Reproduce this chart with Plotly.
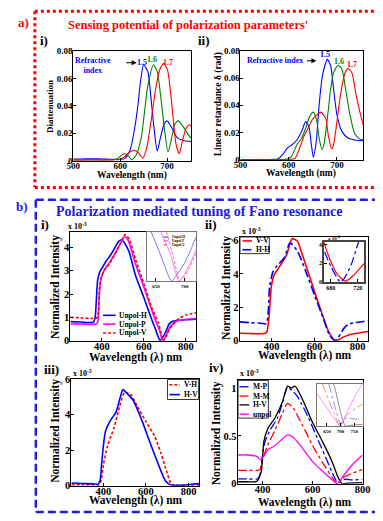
import plotly.graph_objects as go

W, H = 383, 521
SERIF = "Liberation Serif"

# ------------------------------------------------------------------ data
# a-i) Diattenuation vs wavelength for refractive index 1.5 / 1.6 / 1.7
ai_wl_15 = [500, 520, 540, 560, 580, 600, 610, 621, 631, 638, 643, 650, 659, 665, 672, 679, 686, 694, 700, 710, 721, 734, 752]
ai_d_15 = [0.0012, 0.0012, 0.0014, 0.0012, 0.001, 0.0008, 0.0015, 0.0076, 0.024, 0.041, 0.057, 0.070, 0.065, 0.048, 0.024, 0.0071, 0.017, 0.027, 0.029, 0.024, 0.017, 0.0147, 0.014]
ai_wl_16 = [500, 520, 540, 560, 580, 595, 603, 610, 619, 624, 634, 645, 652, 659, 671, 679, 686, 693, 702, 710, 717, 724, 734, 745, 752]
ai_d_16 = [0.0005, 0.0005, 0.0006, 0.0005, 0.0005, 0.0015, 0.004, 0.005, 0.003, 0.0005, 0.004, 0.017, 0.036, 0.055, 0.070, 0.065, 0.048, 0.027, 0.0064, 0.017, 0.027, 0.029, 0.025, 0.019, 0.016]
ai_wl_17 = [500, 520, 540, 560, 580, 600, 610, 621, 631, 639, 648, 657, 665, 676, 685, 693, 701, 708, 714, 719, 726, 733, 741, 747, 752]
ai_d_17 = [0.0004, 0.0004, 0.0005, 0.0004, 0.0005, 0.001, 0.003, 0.0064, 0.0076, 0.0057, 0.0017, 0.010, 0.027, 0.053, 0.067, 0.071, 0.066, 0.048, 0.027, 0.012, 0.005, 0.015, 0.024, 0.026, 0.025]

# a-ii) Linear retardance vs wavelength
aii_wl_15 = [500, 540, 570, 577, 587, 597, 607, 617, 627, 635, 642, 647, 651, 657, 663, 670, 677, 680, 687, 693, 700, 710, 723, 737, 755]
aii_r_15 = [0, 0, 0.0002, 0.0005, 0.0036, 0.0085, 0.011, 0.0145, 0.021, 0.028, 0.024, 0.011, 0.0017, 0.013, 0.040, 0.062, 0.0715, 0.074, 0.069, 0.052, 0.033, 0.021, 0.016, 0.0145, 0.014]
aii_wl_16 = [500, 540, 580, 592, 600, 607, 617, 627, 637, 643, 651, 658, 663, 669, 673, 680, 687, 693, 702, 710, 718, 727, 737, 747, 755]
aii_r_16 = [0, 0, 0, 0.0002, 0.0007, 0.003, 0.011, 0.016, 0.025, 0.0315, 0.035, 0.029, 0.016, 0.0073, 0.011, 0.030, 0.052, 0.064, 0.0695, 0.067, 0.052, 0.033, 0.019, 0.0153, 0.0145]
aii_wl_17 = [500, 540, 580, 605, 613, 620, 630, 640, 650, 667, 677, 682, 689, 693, 700, 707, 717, 723, 731, 740, 749, 755]
aii_r_17 = [0, 0, 0, 0.0002, 0.001, 0.006, 0.016, 0.023, 0.030, 0.035, 0.030, 0.018, 0.0078, 0.011, 0.028, 0.047, 0.064, 0.067, 0.064, 0.047, 0.033, 0.025]

# b-i) Normalized intensity (x 10^-3)
bi_wl_h = [250, 300, 340, 360, 368, 374, 380, 390, 400, 420, 440, 460, 480, 495, 510, 530, 560, 600, 640, 655, 665, 677, 690, 700, 710, 720, 735, 760, 800, 850]
bi_i_h = [0.82, 0.8, 0.78, 0.8, 1.0, 1.8, 2.6, 2.95, 3.1, 3.4, 3.65, 3.95, 4.25, 4.32, 4.15, 3.8, 2.8, 1.85, 0.85, 0.5, 0.25, 0.0, 0.15, 0.3, 0.5, 0.72, 0.82, 0.87, 0.9, 0.92]
bi_wl_p = [250, 300, 350, 375, 382, 388, 395, 410, 440, 470, 490, 508, 525, 560, 600, 640, 663, 675, 690, 700, 710, 722, 740, 760, 800, 850]
bi_i_p = [0.72, 0.72, 0.7, 0.72, 0.9, 2.0, 2.6, 3.0, 3.4, 3.85, 4.2, 4.45, 4.3, 3.3, 2.3, 1.25, 0.7, 0.45, 0.0, 0.12, 0.3, 0.55, 0.75, 0.85, 0.92, 0.95]
bi_wl_v = [250, 300, 350, 375, 382, 388, 395, 410, 440, 470, 490, 510, 530, 560, 600, 640, 668, 680, 692, 700, 710, 722, 740, 760, 800, 850]
bi_i_v = [1.0, 0.98, 0.95, 0.97, 1.1, 2.2, 2.65, 3.0, 3.35, 3.85, 4.2, 4.55, 4.35, 3.5, 2.45, 1.35, 0.8, 0.4, 0.0, 0.08, 0.25, 0.5, 0.7, 0.9, 1.1, 1.2]

# b-ii)
bii_wl_vv = [250, 300, 350, 370, 378, 388, 398, 410, 440, 470, 495, 520, 540, 580, 620, 650, 660, 670, 680, 690, 702, 715, 730, 760, 800, 850]
bii_i_vv = [0.45, 0.43, 0.42, 0.45, 0.55, 1.5, 3.2, 3.9, 4.5, 5.15, 6.1, 5.95, 5.25, 3.7, 2.15, 1.05, 0.7, 0.42, 0.22, 0.08, 0.01, 0.08, 0.2, 0.35, 0.45, 0.55]
bii_wl_hh = [250, 300, 350, 375, 382, 390, 405, 420, 460, 485, 520, 560, 600, 640, 660, 670, 680, 694, 700, 710, 720, 740, 760, 800, 850]
bii_i_hh = [1.13, 1.08, 1.05, 1.02, 1.4, 3.2, 4.1, 4.4, 5.0, 5.85, 5.35, 4.1, 2.7, 1.35, 0.6, 0.34, 0.17, 0.0, 0.04, 0.18, 0.4, 0.8, 1.0, 1.1, 1.2]

# b-iii)
biii_wl_vh = [250, 300, 350, 380, 390, 400, 420, 450, 480, 500, 530, 560, 600, 640, 670, 700, 720, 740, 800, 850]
biii_i_vh = [0.05, 0.05, 0.04, 0.05, 0.3, 1.15, 2.25, 3.25, 4.6, 5.25, 5.1, 4.45, 3.6, 2.8, 1.85, 0.7, 0.07, 0.02, 0.02, 0.05]
biii_wl_hv = [250, 300, 350, 375, 385, 392, 400, 410, 430, 460, 480, 492, 510, 540, 580, 620, 660, 690, 710, 730, 760, 800, 830, 850]
biii_i_hv = [0.15, 0.12, 0.1, 0.08, 0.3, 1.2, 2.2, 3.05, 3.6, 4.15, 5.0, 5.4, 5.2, 4.8, 3.7, 2.4, 1.15, 0.3, 0.07, 0.02, 0.02, 0.05, 0.1, 0.12]

# b-iv)
biv_wl_mp = [300, 340, 380, 390, 400, 410, 430, 460, 480, 500, 520, 540, 580, 620, 660, 685, 700, 720, 760, 800]
biv_i_mp = [0.05, 0.05, 0.05, 0.1, 0.3, 0.44, 0.56, 0.69, 0.85, 1.01, 0.97, 0.91, 0.71, 0.47, 0.23, 0.08, 0.01, 0.045, 0.04, 0.045]
biv_wl_mm = [300, 340, 380, 390, 400, 420, 450, 480, 500, 520, 560, 600, 640, 680, 697, 720, 760, 800]
biv_i_mm = [0.14, 0.14, 0.14, 0.15, 0.25, 0.4, 0.56, 0.74, 0.84, 0.8, 0.61, 0.4, 0.22, 0.06, 0.0, 0.06, 0.11, 0.15]
biv_wl_hv = [300, 340, 370, 380, 395, 405, 420, 450, 480, 500, 515, 530, 560, 600, 640, 680, 700, 718, 740, 800]
biv_i_hv = [0.02, 0.02, 0.02, 0.03, 0.13, 0.44, 0.57, 0.69, 0.86, 1.02, 1.0, 1.02, 0.88, 0.64, 0.44, 0.22, 0.08, 0.0, 0.005, 0.01]
biv_wl_un = [300, 340, 370, 380, 390, 400, 420, 450, 480, 500, 520, 560, 600, 640, 670, 700, 720, 760, 800]
biv_i_un = [0.3, 0.3, 0.29, 0.28, 0.25, 0.27, 0.35, 0.4, 0.47, 0.51, 0.49, 0.37, 0.23, 0.13, 0.06, 0.0, 0.07, 0.2, 0.3]

# tick labels
a_yticks = [0, 0.02, 0.04, 0.06, 0.08]
a_yticktext = ["0", "0.02", "0.04", "0.06", "0.08"]
a_xticks = [500, 600, 700]
b_xticks = [400, 600, 800]

# ------------------------------------------------------------------ helpers
BLUE, GREEN, RED, MAG, BLACK = "#0000ff", "#008000", "#ff0000", "#ff00ff", "#000000"


def fx(x):
    return x / W


def fy(y):
    return 1 - y / H


# subplot boxes in page pixels: left, top, right, bottom
BOX = {
    1: (69, 47, 192, 159),     # a-i
    2: (243, 47, 371, 158),    # a-ii
    3: (66, 232, 197, 343),    # b-i
    4: (242, 237, 376, 343),   # b-ii
    5: (67, 382, 200, 491),    # b-iii
    6: (240, 383, 370, 489),   # b-iv
    7: (146, 232, 197, 282),   # b-i inset
    8: (330, 242, 372, 283),   # b-ii inset
    9: (323, 387, 370, 430),   # b-iv inset
}

fig = go.Figure()
layout = dict(width=W, height=H, margin=dict(l=0, r=0, t=0, b=0),
              paper_bgcolor="white", plot_bgcolor="white", showlegend=False,
              font=dict(family=SERIF, color="black"))


def axes(n, xr, yr, xt, yt, size, xtt=None, ytt=None, show_y=True, lc="black", lw=1,
         xsoff=-3, ysoff=-2):
    l, t, r, b = BOX[n]
    common = dict(showline=True, mirror=True, linecolor=lc, linewidth=lw, ticks="inside",
                  ticklen=3, tickcolor="black", showgrid=False, zeroline=False,
                  tickfont=dict(family=SERIF, size=size, color="black", weight="bold"))
    sfx = "" if n == 1 else str(n)
    layout["xaxis" + sfx] = dict(domain=[fx(l), fx(r)], range=xr, tickvals=xt,
                                 ticktext=xtt if xtt else [str(v) for v in xt],
                                 ticklabelstandoff=xsoff,
                                 anchor="y" + sfx, **common)
    layout["yaxis" + sfx] = dict(domain=[fy(b), fy(t)], range=yr, tickvals=yt,
                                 ticktext=ytt if ytt else [str(v) for v in yt],
                                 ticklabelstandoff=ysoff,
                                 showticklabels=show_y, anchor="x" + sfx, **common)


def line(n, x, y, color, name, dash="solid", width=1.3, opacity=1.0):
    sfx = "" if n == 1 else str(n)
    fig.add_trace(go.Scatter(x=x, y=y, mode="lines", name=name, opacity=opacity,
                             xaxis="x" + sfx, yaxis="y" + sfx,
                             line=dict(color=color, width=width, dash=dash,
                                       shape="spline", smoothing=0.6)))


annotations = []
shapes = []


def text(s, x, y, size, color="black", angle=0, xa="center", ya="middle", bold=True):
    annotations.append(dict(text=s, x=fx(x), y=fy(y), xref="paper", yref="paper",
                            showarrow=False, xanchor=xa, yanchor=ya, textangle=angle,
                            font=dict(family=SERIF, size=size, color=color,
                                      weight="bold" if bold else "normal")))


def arrow(x0, x1, y):
    annotations.append(dict(text="", x=fx(x1), y=fy(y), xref="paper", yref="paper",
                            ax=x0 - x1, ay=0, showarrow=True, arrowhead=2,
                            arrowsize=1, arrowwidth=1, arrowcolor="black"))


def seg(x0, y0, x1, y1, color, width, dash="solid"):
    shapes.append(dict(type="line", xref="paper", yref="paper", x0=fx(x0), y0=fy(y0),
                       x1=fx(x1), y1=fy(y1), line=dict(color=color, width=width, dash=dash)))


def legend(entries, lx0, lx1, tx, ys, size, box=None):
    if box:
        shapes.append(dict(type="rect", xref="paper", yref="paper", x0=fx(box[0]), y0=fy(box[3]),
                           x1=fx(box[2]), y1=fy(box[1]), fillcolor="white",
                           line=dict(color="#333333", width=1)))
    for (name, color, dash, width), yy in zip(entries, ys):
        seg(lx0, yy, lx1, yy, color, width, dash)
        text(name, tx, yy, size, "black", xa="left")


# ------------------------------------------------------------------ axes
axes(1, [500, 752], [0, 0.08], a_xticks, a_yticks, 9, ytt=a_yticktext)
axes(2, [500, 755], [0, 0.08], a_xticks, a_yticks, 9, ytt=a_yticktext)
axes(3, [250, 850], [0, 4.65], b_xticks, [0, 1, 2, 3, 4], 10.5, xsoff=-4)
axes(4, [250, 850], [0, 6.2], b_xticks, [0, 2, 4, 6], 10.5, xsoff=-4)
axes(5, [250, 850], [0, 6], b_xticks, [0, 2, 4, 6], 10.5, xsoff=-4)
axes(6, [300, 800], [0, 1.085], b_xticks, [0, 0.5, 1], 10.5, ytt=["0", "0.5", "1"], xsoff=-4)
axes(7, [635, 720], [0, 0.8], [650, 700], [], 5, show_y=False, lc="#777777", xsoff=0)
axes(8, [670, 730], [0, 0.43], [680, 720], [0, 0.2, 0.4], 6, ytt=["0", "2", "4"],
     lc="#444444", lw=1.8, xsoff=-1, ysoff=-1)
axes(9, [615, 780], [0, 0.25], [650, 700, 750], [], 5, show_y=False, lc="#777777", xsoff=0)

# ------------------------------------------------------------------ traces
line(1, ai_wl_15, ai_d_15, BLUE, "1.5", width=1.1)
line(1, ai_wl_16, ai_d_16, GREEN, "1.6", width=1.1)
line(1, ai_wl_17, ai_d_17, RED, "1.7", width=1.1)
line(2, aii_wl_15, aii_r_15, BLUE, "1.5", width=1.1)
line(2, aii_wl_16, aii_r_16, GREEN, "1.6", width=1.1)
line(2, aii_wl_17, aii_r_17, RED, "1.7", width=1.1)

B_I = [("Unpol-H", bi_wl_h, bi_i_h, BLUE, "solid"),
       ("Unpol-P", bi_wl_p, bi_i_p, MAG, "solid"),
       ("Unpol-V", bi_wl_v, bi_i_v, RED, "3px,2px")]
for nm, xx, yy, c, d in B_I:
    line(3, xx, yy, c, nm, d, 1.6)
B_II = [("V-V", bii_wl_vv, bii_i_vv, RED, "solid"),
        ("H-H", bii_wl_hh, bii_i_hh, BLUE, "dashdot")]
for nm, xx, yy, c, d in B_II:
    line(4, xx, yy, c, nm, d, 1.6)
B_III = [("V-H", biii_wl_vh, biii_i_vh, RED, "3px,2px"),
         ("H-V", biii_wl_hv, biii_i_hv, BLUE, "solid")]
for nm, xx, yy, c, d in B_III:
    line(5, xx, yy, c, nm, d, 1.6)
B_IV = [("M-P", biv_wl_mp, biv_i_mp, BLUE, "dashdot"),
        ("M-M", biv_wl_mm, biv_i_mm, RED, "dashdot"),
        ("H-V", biv_wl_hv, biv_i_hv, BLACK, "solid"),
        ("unpol", biv_wl_un, biv_i_un, MAG, "solid")]
for nm, xx, yy, c, d in B_IV:
    line(6, xx, yy, c, nm, d, 1.3)

# insets (zoom on the Fano dip)
for nm, xx, yy, c, d in B_I:
    line(7, xx, yy, c, nm, d, 0.9, 0.6)
for nm, xx, yy, c, d in B_II:
    line(8, xx, yy, c, nm, d, 1.2)
for nm, xx, yy, c, d in B_IV:
    line(9, xx, yy, c, nm, d, 0.8, 0.55)

# ------------------------------------------------------------------ borders
seg(29, 6.5, 383, 6.5, RED, 3, "dot")
seg(29, 6.5, 29, 186.5, RED, 3, "dot")
seg(29, 186.5, 383, 186.5, RED, 3, "dot")
seg(30, 199, 383, 199, "#2020e0", 2.5, "8px,4px")
seg(30, 199, 30, 518, "#2020e0", 2.5, "8px,4px")
seg(30, 518, 383, 518, "#2020e0", 2.5, "8px,4px")

# ------------------------------------------------------------------ texts
text("a)", 17, 18, 13, RED)
text("Sensing potential of polarization parameters'", 188, 20, 12.5, RED)
text("b)", 16, 206, 13, "#1a1ae6")
text("Polarization mediated tuning of Fano resonance", 200, 211, 14, "#1a1ae6")

text("i)", 39, 36, 13)
text("ii)", 205, 36, 13)
text("i)", 40, 224, 13)
text("ii)", 212, 224, 13)
text("iii)", 46, 372, 13)
text("iv)", 218, 370, 13)

text("Diattenuation", 45, 104, 9, angle=-90)
text("Linear retardance δ (rad)", 220, 101, 9.5, angle=-90)
text("Wavelength (nm)", 130, 174, 9.5)
text("Wavelength (nm)", 306, 172, 9.5)

for (cx, cy) in [(51, 288), (229, 289), (51, 435), (218, 437)]:
    text("Normalized Intensity", cx, cy, 11.5, angle=-90)
for (cx, cy) in [(134, 360), (310, 358.5), (134, 506), (310, 508)]:
    text("Wavelength (λ) nm", cx, cy, 11.5)

for (xx, yy) in [(61, 233), (243, 238), (67, 383), (240, 383)]:
    text("x 10<sup>-3</sup>", xx, yy, 8, xa="left", ya="bottom")
text("x 10<sup>-4</sup>", 332, 243, 5, xa="left", ya="bottom")

# refractive index annotations
text("Refractive<br>index", 90, 62, 8, BLUE)
arrow(123, 135, 59)
text("1.5", 140, 59, 8, BLUE)
text("1.6", 151, 56, 8, GREEN)
text("1.7", 168, 59, 8, RED)
text("Refractive index", 279, 57, 8, BLUE)
arrow(311, 322, 57)
text("1.5", 331, 51, 8, BLUE)
text("1.6", 346, 58, 8, GREEN)
text("1.7", 359, 61, 8, RED)

# legends
legend([(n, c, d, 1.6) for n, _, _, c, d in B_I], 100, 113, 115, [317, 326, 335], 7.5)
legend([(n, c, d, 1.6) for n, _, _, c, d in B_II], 245, 255, 257, [241, 250], 7.5,
       box=(242.5, 237, 273, 254))
legend([(n, c, d, 1.6) for n, _, _, c, d in B_III], 169, 180, 182, [388, 398], 7.5,
       box=(167, 382.5, 199.5, 403))
legend([(n, c, d, 1.3) for n, _, _, c, d in B_IV], 242, 252, 254, [390, 399.5, 408.5, 418], 7.5,
       box=(240.5, 383.5, 272, 422))
legend([(n, c, d, 0.8) for n, _, _, c, d in B_I], 163, 168, 169.5, [237, 241, 245], 3.5)

layout["annotations"] = annotations
layout["shapes"] = shapes
fig.update_layout(**layout)

fig.write_html("out.html", config={"displayModeBar": False},
               post_script="document.body.style.margin='0';")
